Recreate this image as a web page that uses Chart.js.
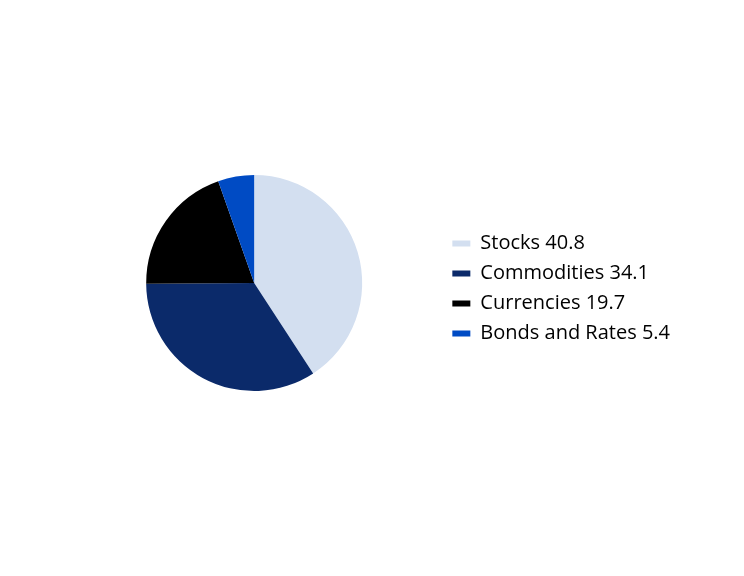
<!DOCTYPE html>
<html lang="en">
<head>
    <meta charset="UTF-8">
    <title>Portfolio Split</title>
    <script src="https://cdn.jsdelivr.net/npm/chart.js"></script>
    <style>
        html, body { margin: 0; padding: 0; background: #fff; }
        .wrap { width: 744px; height: 576px; }
    </style>
</head>
<body>
    <div class="wrap"><canvas id="pieChart"></canvas></div>

    <script>
        const categories = ['Stocks', 'Commodities', 'Currencies', 'Bonds and Rates'];
        const shares = [40.8, 34.1, 19.7, 5.4];
        const sliceColors = ['#d3dff0', '#0b2a6a', '#000000', '#004bc4'];

        const ctx = document.getElementById('pieChart').getContext('2d');
        const pieChart = new Chart(ctx, {
            type: 'pie',
            data: {
                labels: categories.map((c, i) => c + ' ' + shares[i]),
                datasets: [{
                    data: shares,
                    backgroundColor: sliceColors,
                    borderWidth: 0
                }]
            },
            options: {
                responsive: true,
                maintainAspectRatio: false,
                animation: false,
                layout: { padding: { left: 66, right: 64, top: 175, bottom: 185 } },
                plugins: {
                    tooltip: { enabled: false },
                    legend: {
                        position: 'right',
                        // empty title just nudges the items down a few px
                        title: { display: true, text: '', font: { size: 5 }, padding: 2.5 },
                        labels: {
                            boxWidth: 18,
                            boxHeight: 6,
                            padding: 10,
                            color: '#000',
                            font: { family: 'Open Sans', size: 20 }
                        }
                    }
                }
            }
        });
    </script>
</body>
</html>
